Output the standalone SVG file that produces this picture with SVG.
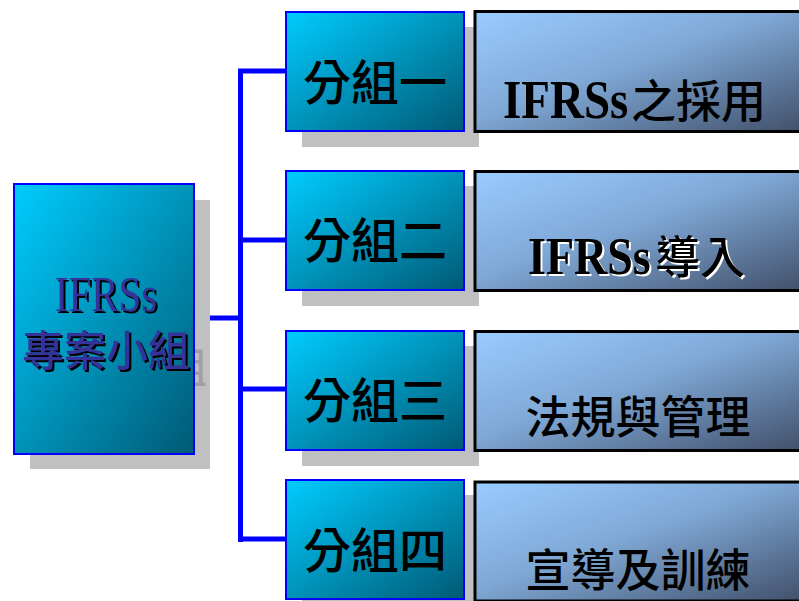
<svg xmlns="http://www.w3.org/2000/svg" width="799" height="601" viewBox="0 0 799 601">
<defs>
<linearGradient id="cyan" x1="0" y1="0" x2="1" y2="1">
<stop offset="0" stop-color="#00ccff"/>
<stop offset="1" stop-color="#005a75"/>
</linearGradient>
<linearGradient id="steel" x1="0" y1="0" x2="1" y2="1">
<stop offset="0" stop-color="#99ccff"/>
<stop offset="0.45" stop-color="#7fa8d6"/>
<stop offset="1" stop-color="#3f4d66"/>
</linearGradient>
<filter id="mainShadow" filterUnits="userSpaceOnUse" x="0" y="250" width="260" height="150" color-interpolation-filters="sRGB">
<feOffset in="SourceAlpha" dx="17" dy="17" x="195" y="250" width="30" height="150" result="o1"/>
<feFlood flood-color="#a0a0a0" result="g"/>
<feComposite in="g" in2="o1" operator="in" result="grey"/>
<feOffset in="SourceAlpha" dx="2" dy="2" result="blk"/>
<feMerge><feMergeNode in="grey"/><feMergeNode in="blk"/><feMergeNode in="SourceGraphic"/></feMerge>
</filter>
<filter id="whiteShadow" x="-5%" y="-10%" width="110%" height="130%" color-interpolation-filters="sRGB">
<feOffset in="SourceAlpha" dx="2" dy="2" result="o"/>
<feFlood flood-color="#ffffff" result="w"/>
<feComposite in="w" in2="o" operator="in" result="ws"/>
<feMerge><feMergeNode in="ws"/><feMergeNode in="SourceGraphic"/></feMerge>
</filter>
<style>
.shadow{fill:#c0c0c0}
.cbox{fill:url(#cyan);stroke:#0000ff;stroke-width:2}
.sbox{fill:url(#steel);stroke:#000;stroke-width:3}
.conn{stroke:#0000ff;stroke-width:5;fill:none}
.grp{font-family:"Noto Sans CJK TC","Noto Sans CJK SC",sans-serif;font-size:48px;font-weight:500;fill:#000;text-anchor:middle}
.lbl{font-family:"Noto Sans CJK TC","Noto Sans CJK SC",sans-serif;font-size:45px;font-weight:500;fill:#000}
.lat{font-family:"Liberation Serif",serif;font-weight:bold;fill:#000}
.main{font-family:"Noto Sans CJK TC","Noto Sans CJK SC",sans-serif;font-size:42px;font-weight:500;text-anchor:middle;fill:#333399}
</style>
</defs>
<g id="connectors">
<line class="conn" x1="194" y1="318" x2="241" y2="318" stroke-width="4"/>
<line class="conn" x1="240.5" y1="69" x2="240.5" y2="542"/>
<line class="conn" x1="238" y1="71" x2="286" y2="71"/>
<line class="conn" x1="238" y1="240" x2="286" y2="240"/>
<line class="conn" x1="238" y1="389" x2="286" y2="389"/>
<line class="conn" x1="238" y1="539" x2="286" y2="539"/>
</g>
<g id="main">
<rect class="shadow" x="30" y="200" width="180" height="269"/>
<rect class="cbox" x="14" y="184" width="180" height="270"/>
<g filter="url(#mainShadow)">
<text transform="translate(106 311) scale(1 1.25)" font-family="Liberation Serif,serif" font-size="41" fill="#333399" text-anchor="middle">IFRSs</text>
</g>
<text class="main" x="106" y="366" filter="url(#mainShadow)">專案小組</text>
</g>
<g id="group1">
<rect class="shadow" x="302" y="27" width="177" height="120"/>
<rect class="cbox" x="286" y="12" width="178" height="119"/>
<text class="grp" x="375" y="100">分組一</text>
</g>
<g id="group2">
<rect class="shadow" x="302" y="186" width="177" height="120"/>
<rect class="cbox" x="286" y="171" width="178" height="119"/>
<text class="grp" x="375" y="258">分組二</text>
</g>
<g id="group3">
<rect class="shadow" x="302" y="346" width="177" height="120"/>
<rect class="cbox" x="286" y="331" width="178" height="119"/>
<text class="grp" x="375" y="418">分組三</text>
</g>
<g id="group4">
<rect class="shadow" x="302" y="495" width="177" height="120"/>
<rect class="cbox" x="286" y="480" width="178" height="119"/>
<text class="grp" x="375" y="568">分組四</text>
</g>
<g id="task1">
<rect class="sbox" x="475" y="11.5" width="340" height="120"/>
<text class="lat" transform="translate(503 118) scale(1 1.15)" font-size="47">IFRSs</text>
<text class="lbl" x="631" y="118">之採用</text>
</g>
<g id="task2">
<rect class="sbox" x="475" y="171.5" width="340" height="119"/>
<g filter="url(#whiteShadow)">
<text class="lat" transform="translate(528 274) scale(1 1.15)" font-size="46">IFRSs</text>
<text class="lbl" x="655" y="274">導入</text>
</g>
</g>
<g id="task3">
<rect class="sbox" x="475" y="331.5" width="340" height="119"/>
<text class="lbl" x="638" y="434" text-anchor="middle">法規與管理</text>
</g>
<g id="task4">
<rect class="sbox" x="475" y="482" width="340" height="119"/>
<text class="lbl" x="638" y="587" text-anchor="middle">宣導及訓練</text>
</g>
</svg>
